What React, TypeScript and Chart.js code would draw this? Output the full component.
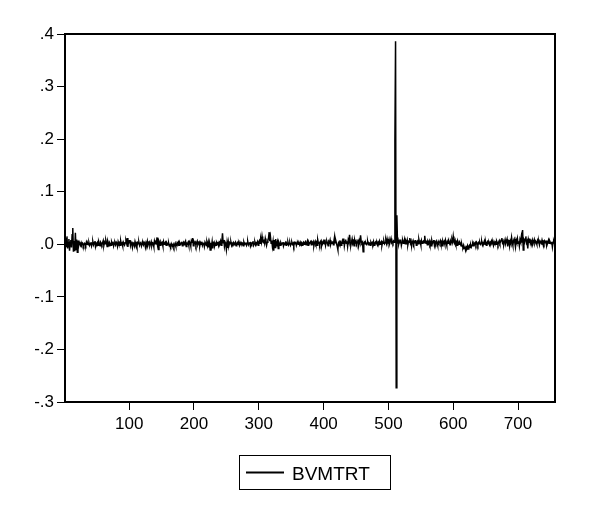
import React, { useEffect, useRef } from "react";
import { Chart, registerables } from "chart.js";

Chart.register(...registerables);

const seriesName = "BVMTRT";
const xTickValues = [100, 200, 300, 400, 500, 600, 700];
const yMin = -0.3;
const yMax = 0.4;

const bvmtrt = [
  .006,.012,-.004,.015,-.008,.003,.010,-.012,.004,.008,-.006,.018,.031,-.014,.006,-.013,.022,-.010,.009,-.015,
  .007,-.003,.004,.001,-.002,.003,-.001,.002,.000,-.003,.002,.001,-.002,.004,.000,.002,-.001,.003,-.002,.001,
  .004,-.003,.002,.005,-.001,.003,.006,-.004,.002,.000,.003,-.002,.005,.001,-.003,.004,.002,-.001,.003,.007,
  -.002,.004,.001,.008,.003,-.004,.006,.002,-.003,.003,.001,-.002,.004,.000,.005,-.003,.002,.003,-.001,.004,
  .002,-.004,.005,.001,.003,-.002,.006,.000,.002,-.003,.004,.001,-.001,.003,.007,.002,.012,-.005,.006,.003,
  .008,-.002,.004,.001,-.006,.003,.002,-.003,.005,.000,.002,-.004,.003,.001,.004,-.002,.002,.005,-.003,.001,
  .003,-.001,.004,.002,-.005,.003,.000,.006,-.002,.002,.004,-.003,.001,.005,-.002,.003,.002,-.004,.006,.001,
  .004,.002,.013,-.004,-.010,.006,.003,-.002,.004,.001,.003,-.003,.005,.000,.002,.004,-.002,.003,.001,-.001,
  .002,-.003,-.001,-.004,.001,-.002,-.003,.000,-.005,-.001,.002,-.003,-.002,.003,.001,.004,-.002,.003,.000,.002,
  .005,-.003,.002,.004,-.001,.003,.006,-.004,.002,.001,.004,-.002,.005,.003,-.003,.007,.004,.012,-.003,.005,
  .002,.004,-.002,.003,.006,-.001,.002,.004,-.003,.003,.000,.005,-.002,.002,.003,-.004,.004,.001,-.002,.003,
  -.003,.004,-.006,.002,-.011,.003,-.004,.005,-.008,.002,.004,-.003,.001,-.002,.003,.000,.005,-.002,.004,.002,
  .006,-.002,.005,.021,.003,.008,-.004,.004,.001,-.010,.003,-.007,.005,-.002,.003,.001,.004,-.002,.002,.000,
  .003,-.001,.002,.004,-.003,.001,.003,.000,.002,-.002,.004,.001,-.001,.003,.002,-.003,.004,.000,.002,.001,
  -.002,.003,.005,-.001,.002,.004,-.003,.002,.000,.003,.006,-.002,.001,.004,-.001,.003,.002,.005,-.002,.004,
  .007,.002,.010,.004,.015,.006,.003,.009,.002,.011,.005,-.002,.004,.008,.012,.023,.006,.014,.002,.007,
  -.004,.005,-.012,.008,-.006,.010,-.003,.002,.006,-.008,.004,.001,-.002,.003,.000,.002,.004,-.003,.002,.001,
  .003,-.002,.002,.000,.004,-.001,.002,.003,-.002,.001,.004,.000,.002,-.003,.003,.001,.005,-.002,.002,.003,
  .000,.002,-.001,.004,.001,.003,-.002,.002,.004,.000,.003,.005,-.001,.002,.006,-.002,.004,.001,.003,.007,
  -.001,.004,.002,.005,-.003,.003,.006,.001,.004,-.002,.008,.002,.003,-.001,.005,.007,-.002,.004,.003,.006,
  .001,.009,-.002,.004,.006,.002,-.003,.005,.003,.008,.000,.004,.002,.006,-.001,.007,.015,.003,.006,.001,
  -.004,-.010,.003,.005,.001,.004,-.002,.003,.007,.002,.011,-.003,.005,.009,.002,.006,-.004,.008,.004,.018,
  .006,-.002,.004,.010,.002,.005,-.003,.008,.003,.006,.001,.004,.009,-.002,.007,.003,.017,.005,.002,.004,
  -.014,.002,.004,.001,.003,.000,.002,.005,-.001,.003,.002,-.002,.004,.001,.003,.000,.005,-.002,.002,.004,
  .001,.003,-.001,.004,.002,.006,.000,.003,.005,-.002,.004,.002,.006,.001,.003,.008,.002,.010,.004,.003,
  .009,.002,.006,.011,.003,.005,.002,.006,.004,.196,.386,-.273,.055,.004,.008,.001,.006,.003,.009,-.002,
  .004,.007,.002,.005,.010,.001,.006,.003,.008,-.001,.005,.004,.012,.002,.006,-.002,.004,.007,.001,.005,
  .003,.008,-.002,.004,.006,.001,.009,.003,.005,-.001,.007,.002,.004,.006,.003,.016,.004,.002,.007,-.001,
  .005,.002,.006,.000,.004,-.003,.007,.002,.005,.008,-.002,.004,.001,.006,.003,-.002,.005,.002,.004,.007,
  .001,.004,-.003,.006,.002,.005,.000,.008,.003,-.002,.005,.002,.007,.004,-.001,.006,.003,.009,.004,.015,
  .005,.002,.007,.001,.004,-.002,.006,.003,.000,.004,.002,-.003,.001,-.004,-.006,-.002,-.008,-.004,-.011,-.005,
  -.007,-.003,-.009,-.004,-.002,-.006,-.001,-.005,-.002,.001,-.003,.002,.000,.003,-.001,.004,.002,-.002,.003,.001,
  .004,.000,.002,.005,-.001,.003,.002,.006,.000,.004,-.002,.003,.005,.001,.003,-.001,.004,.002,.006,.001,
  .003,-.002,.005,.002,.004,.000,.006,.003,-.001,.004,.007,.002,.005,.008,.012,.003,.006,-.001,.004,.009,
  .002,.006,.010,-.004,.005,.008,-.003,.006,.002,.013,.004,-.002,.007,.010,.003,-.005,.008,.004,.011,.002,
  .006,-.003,.009,.005,.014,.003,.027,-.011,.008,.004,.010,.015,.003,.006,-.008,.009,.004,.011,.002,.006,
  .003,.008,.001,.005,.009,.002,.006,.004,.000,.007,.003,.005,-.001,.006,.004,.002,.008,.003,.005,.001,
  .006,.003,.007,-.002,.005,.004,.008,.002,.006,.003,.001,.005,-.005,.004,.006,.002,.003,
];

const FONT = '"Liberation Sans", Arial, Helvetica, sans-serif';

const frameAndLegend = {
  id: "frameAndLegend",
  afterDraw(chart: any) {
    const { ctx, chartArea } = chart;
    ctx.save();
    ctx.strokeStyle = "#000";
    ctx.lineWidth = 2;
    ctx.strokeRect(chartArea.left, chartArea.top, chartArea.right - chartArea.left, chartArea.bottom - chartArea.top);
    // legend box
    ctx.lineWidth = 1;
    ctx.strokeRect(239.5, 455.5, 151, 34);
    ctx.lineWidth = 2;
    ctx.beginPath();
    ctx.moveTo(246, 472.5);
    ctx.lineTo(284, 472.5);
    ctx.stroke();
    ctx.fillStyle = "#000";
    ctx.font = `19px ${FONT}`;
    ctx.textBaseline = "alphabetic";
    ctx.textAlign = "left";
    ctx.fillText(seriesName, 292, 479.5);
    ctx.restore();
  },
};

function formatY(v: number) {
  const r = Math.round(v * 10) / 10;
  return r.toFixed(1).replace("0.", ".");
}

export default function App() {
  const ref = useRef<HTMLCanvasElement>(null);
  useEffect(() => {
    if (!ref.current) return;
    const points = bvmtrt.map((y, i) => ({ x: i + 1, y }));
    const chart = new Chart(ref.current, {
      type: "line",
      data: {
        datasets: [
          {
            label: seriesName,
            data: points,
            borderColor: "#000",
            borderWidth: 1.5,
            pointRadius: 0,
            tension: 0,
            fill: false,
          },
        ],
      },
      options: {
        animation: false,
        responsive: false,
        events: [],
        layout: { padding: { left: 0, top: 34, right: 45, bottom: 0 } },
        plugins: { legend: { display: false }, tooltip: { enabled: false } },
        scales: {
          x: {
            type: "linear",
            min: 1,
            max: 757,
            afterBuildTicks: (scale: any) => {
              scale.ticks = xTickValues.map((v) => ({ value: v }));
            },
            afterFit: (scale: any) => {
              scale.height = 110;
            },
            grid: { drawOnChartArea: false, drawTicks: true, tickLength: 8, color: "#000", lineWidth: 1 },
            border: { display: true, color: "#000", width: 2 },
            ticks: {
              color: "#000",
              font: { family: FONT, size: 17 },
              padding: 4,
              maxRotation: 0,
              autoSkip: false,
              callback: (v: any) => String(v),
            },
          },
          y: {
            type: "linear",
            min: yMin,
            max: yMax,
            afterFit: (scale: any) => {
              scale.width = 65;
            },
            grid: { drawOnChartArea: false, drawTicks: true, tickLength: 8, color: "#000", lineWidth: 1 },
            border: { display: true, color: "#000", width: 2 },
            ticks: {
              stepSize: 0.1,
              color: "#000",
              font: { family: FONT, size: 17 },
              padding: 3,
              callback: (v: any) => formatY(Number(v)),
            },
          },
        },
      },
      plugins: [frameAndLegend],
    });
    return () => chart.destroy();
  }, []);
  return (
    <div style={{ position: "fixed", left: 0, top: 0, width: 600, height: 512, background: "#fff" }}>
      <canvas ref={ref} width={600} height={512} />
    </div>
  );
}
